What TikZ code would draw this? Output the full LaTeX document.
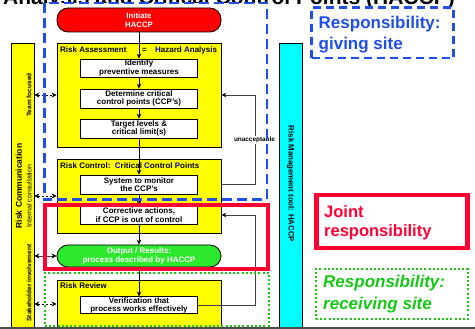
\documentclass[tikz,border=0pt]{standalone}
\usepackage{fontspec}
\setmainfont{Liberation Sans}
\usetikzlibrary{arrows.meta,calc}

\definecolor{hyellow}{HTML}{FFFF00}
\definecolor{hcyan}{HTML}{00FFFF}
\definecolor{hred}{HTML}{FF0000}
\definecolor{hgreen}{HTML}{2EE82E}
\definecolor{giveblue}{HTML}{1F4FE6}
\definecolor{jointred}{HTML}{FF0033}
\definecolor{recvgreen}{HTML}{14C814}
\definecolor{letterblue}{HTML}{0000E0}
\definecolor{fbgray}{HTML}{404040}

\newcommand{\bl}[1]{{\color{letterblue}#1}}

\begin{document}
\begin{tikzpicture}[x=1pt,y=-1pt,
  group/.style={draw=black, line width=0.8pt, fill=hyellow, minimum width=164pt, inner sep=0pt},
  grouplabel/.style={anchor=base west, inner sep=0pt, font=\fontsize{8}{8.5}\selectfont\bfseries},
  stepbox/.style={draw=black, line width=0.7pt, fill=white, minimum width=117pt, inner sep=0pt,
    align=center, font=\fontsize{8}{8.5}\selectfont\bfseries},
  pill/.style={draw=black, line width=0.8pt, rounded corners=11pt, minimum width=164pt, inner sep=0pt,
    align=center, text=white},
  column/.style={draw=black, line width=0.8pt, inner sep=0pt, minimum width=23pt, minimum height=285pt},
  flow/.style={-{Stealth[length=5pt,width=4.5pt]}, line width=0.7pt},
  feedback/.style={draw=fbgray, line width=0.7pt, -{Stealth[length=5pt,width=4.5pt,color=black]}},
  comm/.style={{Stealth[length=5pt,width=5pt]}-{Stealth[length=5pt,width=5pt]}, line width=0.7pt,
    dash pattern=on 2pt off 2pt},
  commsolid/.style={{Stealth[length=5pt,width=5pt,color=black]}-{Stealth[length=5pt,width=5pt,color=black]},
    line width=0.7pt, draw=fbgray},
  legendtext/.style={anchor=west, inner sep=0pt, align=left,
    font=\fontsize{17}{21}\selectfont\bfseries}
]
\useasboundingbox (0,0) rectangle (475,329);

% heading, partly hidden under the giving-site zone
\node[anchor=base east, inner sep=0pt, font=\fontsize{21}{21}\selectfont\bfseries] (title)
  at (455,5) {Hazard Analysis and Critical Control Points (HACCP)};

% white backing of the giving-site zone
\node[fill=white, inner sep=0pt, minimum width=222.5pt, minimum height=196.5pt] (givezone)
  at (155.75,101.25) {};

% side columns
\node[column, fill=hyellow] (comm) at (22.5,185.5) {};
\node[rotate=90, inner sep=0pt, font=\fontsize{8.5}{8.5}\selectfont\bfseries] (commtitle)
  at (18.8,186) {Risk Communication};
\node[rotate=90, inner sep=0pt, font=\fontsize{6.5}{6.5}\selectfont\bfseries] (teamtxt)
  at (29,95) {Team focused};
\node[rotate=90, inner sep=0pt, font=\fontsize{7}{7}\selectfont] (internaltxt)
  at (29,196) {Internal consultation};
\node[rotate=90, inner sep=0pt, font=\fontsize{6.5}{6.5}\selectfont\bfseries] (stakeholdertxt)
  at (29,283) {Stakeholder involvement};

\node[column, fill=hcyan, minimum width=23.5pt] (tool) at (290.75,185.5) {};
\node[rotate=-90, inner sep=0pt, font=\fontsize{7.8}{7.8}\selectfont\bfseries] (tooltxt)
  at (290.5,184) {Risk Management tool: HACCP};

% start
\node[pill, fill=hred, minimum height=24pt, font=\fontsize{7.8}{9.3}\selectfont\bfseries]
  (initiate) at (139,20) {Initiate\\HACCP};

% risk assessment
\node[group, minimum height=104pt] (ra) at (139,95) {};
\node[grouplabel] (ralabel) at (60,53) {Risk Assessment};
\node[grouplabel] (raeq) at (142,53) {=};
\node[grouplabel] (rahazard) at (155,53) {\bl{H}azard \bl{A}nalysis};
\node[stepbox, minimum height=18pt] (identify) at (139,68) {Identify\\preventive measures};
\node[stepbox, minimum height=19pt] (determine) at (139,98.5) {Determine critical\\control points (CCP's)};
\node[stepbox, minimum height=19pt] (target) at (139,128.5) {Target levels \&\\critical limit(s)};

% risk control
\node[group, minimum height=74pt] (rc) at (139,196) {};
\node[grouplabel] (rclabel) at (60,168) {Risk Control:\ \ \bl{C}ritical \bl{C}ontrol \bl{P}oints};
\node[stepbox, minimum height=19pt] (system) at (139,184.5) {System to monitor\\the CCP's};
\node[stepbox, minimum height=18pt] (corrective) at (139,215) {Corrective actions,\\if CCP is out of control};

% result
\node[pill, fill=hgreen, minimum height=22pt, font=\fontsize{8}{9}\selectfont\bfseries]
  (output) at (139,256) {Output / Results:\\process described by HACCP};

% risk review
\node[group, minimum height=48pt] (rr) at (139,304) {};
\node[grouplabel] (rrlabel) at (60,289) {Risk Review};
\node[stepbox, minimum height=17pt] (verification) at (139,305.3) {Verification that\\process works effectively};

% main flow
\draw[flow] (initiate) -- (identify);
\draw[flow] (identify) -- (determine);
\draw[flow] (determine) -- (target);
\draw[flow] (target) -- (system);
\draw[flow] (system) -- (corrective);
\draw[flow] (corrective) -- (output);
\draw[flow] (output) -- (verification);

% feedback loops
\coordinate (fbx) at (255.5,0);
\draw[feedback] (rc.east |- system.east) -- (system.east -| fbx) -- (fbx |- ra.east) -- (ra.east);
\draw[feedback] (verification.east) -- (verification.east -| fbx) -- (fbx |- corrective.east)
  -- (rc.east |- corrective.east);
\node[fill=white, inner sep=0.6pt, font=\fontsize{6.4}{6.4}\selectfont\bfseries] (unacc)
  at (254.5,140) {unacceptable};

% communication links
\draw[comm] (comm.east |- ra.west) -- (ra.west);
\draw[comm] (comm.east |- rc.west) -- (rc.west);
\draw[commsolid] (comm.east |- output.west) -- (output.west);
\draw[comm] (comm.east |- rr.west) -- (rr.west);

% responsibility zones
\draw[giveblue, line width=2.5pt, dash pattern=on 10pt off 5pt]
  (givezone.north west) rectangle (givezone.south east);
\node[draw=jointred, line width=4pt, inner sep=0pt, minimum width=223pt, minimum height=64pt]
  (jointzone) at (156.5,237) {};
\node[draw=recvgreen, line width=2pt, dash pattern=on 2pt off 2.2pt, inner sep=0pt,
  minimum width=224pt, minimum height=53pt] (recvzone) at (157,299.5) {};

% legend
\node[draw=giveblue, line width=2.5pt, dash pattern=on 8pt off 5pt, inner sep=0pt,
  minimum width=142pt, minimum height=50.5pt] (givebox) at (382.5,32.75) {};
\node[legendtext, text=giveblue] (givetxt) at (318.5,35.1) {Responsibility:\\giving site};

\node[draw=jointred, line width=4.5pt, inner sep=0pt, minimum width=151pt, minimum height=53pt]
  (jointbox) at (392,221.5) {};
\node[legendtext, text=jointred, font=\fontsize{16.5}{19}\selectfont\bfseries] (jointtxt)
  at (324,223.2) {Joint\\responsibility};

\node[draw=recvgreen, line width=2pt, dash pattern=on 2pt off 2.2pt, inner sep=0pt,
  minimum width=152pt, minimum height=50pt] (recvbox) at (392,294) {};
\node[legendtext, text=recvgreen, font=\fontsize{17}{22}\selectfont\bfseries\itshape] (recvtxt)
  at (323,294.6) {Responsibility:\\receiving site};

% lower edge
\draw[black!70, line width=1.5pt] (0,328) -- (475,328);
\end{tikzpicture}
\end{document}
